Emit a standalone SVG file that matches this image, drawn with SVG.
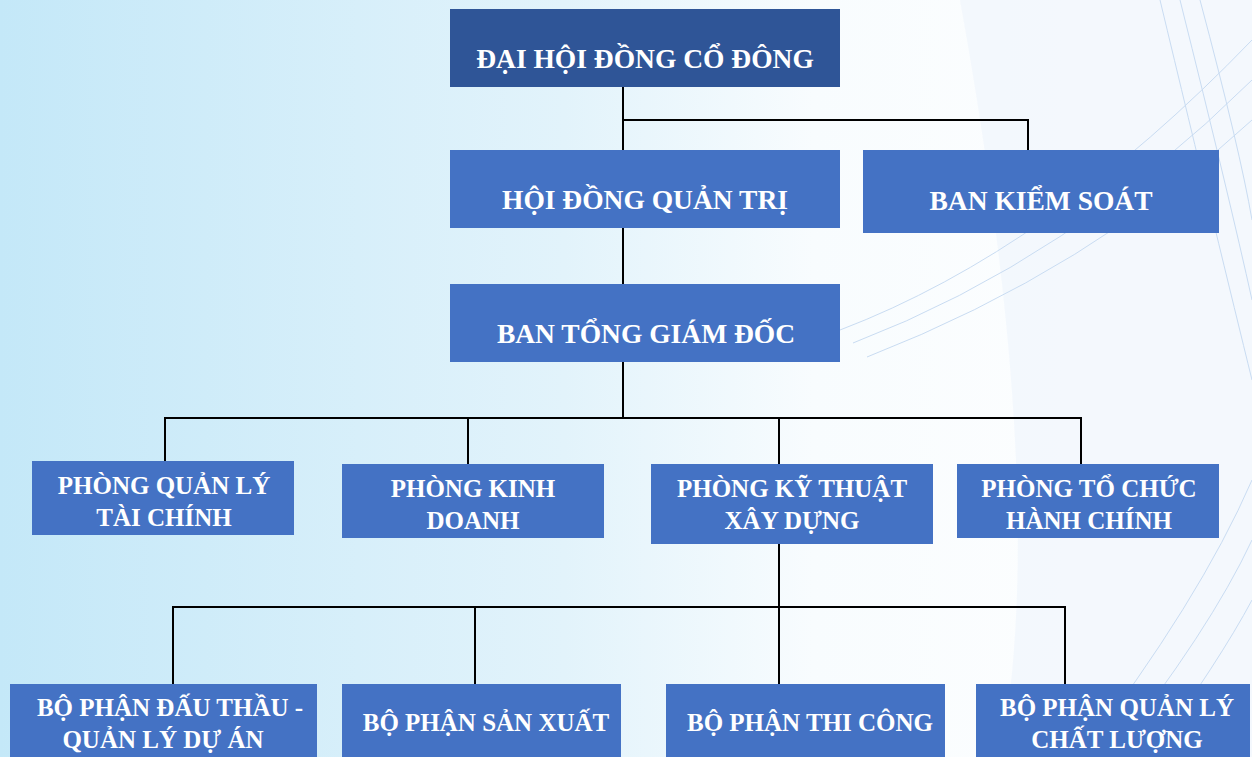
<svg xmlns="http://www.w3.org/2000/svg" width="1252" height="757" viewBox="0 0 1252 757">
<defs>
<linearGradient id="bg" x1="0" y1="0" x2="1" y2="0">
<stop offset="0" stop-color="#c4e8f8"/>
<stop offset="0.45" stop-color="#e2f3fb"/>
<stop offset="0.65" stop-color="#f8fcfe"/>
<stop offset="1" stop-color="#ffffff"/>
</linearGradient>
<style>
.box{fill:#4472c4}
.top{fill:#2f5597}
.t{font-family:"Liberation Serif","Times New Roman",serif;font-weight:bold;fill:#ffffff;text-anchor:middle}
.big{font-size:27.5px}
.sm{font-size:25px}
.ln{stroke:#000;stroke-width:2;fill:none}
.arc{stroke:#c9dcf2;stroke-width:1;fill:none}
</style>
</defs>
<rect width="1252" height="757" fill="url(#bg)"/>
<path d="M960 0 L1252 0 L1252 757 L1000 757 Q1050 500 960 0 Z" fill="#f1f6fc" opacity="0.8"/>
<g id="bgcurves">
<path class="arc" d="M840 330 Q1050 250 1252 40"/>
<path class="arc" d="M853 343 Q1070 260 1252 80"/>
<path class="arc" d="M867 357 Q1090 270 1252 120"/>
<path class="arc" d="M1080 757 Q1200 600 1252 480"/>
<path class="arc" d="M1110 757 Q1210 630 1252 540"/>
<path class="arc" d="M1150 757 Q1220 660 1252 600"/>
<path class="arc" d="M1180 0 Q1230 200 1252 300"/>
<path class="arc" d="M1200 0 Q1240 150 1252 220"/>
<path class="arc" d="M1160 0 Q1220 250 1252 380"/>
</g>
<g id="connectors">
<polyline class="ln" points="623,86 623,150"/>
<polyline class="ln" points="623,120 1028,120 1028,155"/>
<polyline class="ln" points="623,227 623,284"/>
<polyline class="ln" points="623,361 623,418"/>
<polyline class="ln" points="165,461 165,418 1081,418 1081,464"/>
<polyline class="ln" points="468,418 468,464"/>
<polyline class="ln" points="779,418 779,464"/>
<polyline class="ln" points="779,544 779,684"/>
<polyline class="ln" points="173,684 173,607 1065,607 1065,684"/>
<polyline class="ln" points="475,607 475,684"/>
</g>
<g id="dhdcd"><rect class="top" x="450" y="9" width="390" height="78"/><text class="t big" x="645" y="68">ĐẠI HỘI ĐỒNG CỔ ĐÔNG</text></g>
<g id="hdqt"><rect class="box" x="450" y="150" width="390" height="78"/><text class="t big" x="645" y="209">HỘI ĐỒNG QUẢN TRỊ</text></g>
<g id="bks"><rect class="box" x="863" y="150" width="356" height="83"/><text class="t big" x="1041" y="210">BAN KIỂM SOÁT</text></g>
<g id="btgd"><rect class="box" x="450" y="284" width="390" height="78"/><text class="t big" x="646" y="343">BAN TỔNG GIÁM ĐỐC</text></g>
<g id="pqltc"><rect class="box" x="32" y="461" width="262" height="74"/><text class="t sm" x="164" y="494">PHÒNG QUẢN LÝ</text><text class="t sm" x="164" y="526">TÀI CHÍNH</text></g>
<g id="pkd"><rect class="box" x="342" y="464" width="262" height="74"/><text class="t sm" x="473" y="497">PHÒNG KINH</text><text class="t sm" x="473" y="529">DOANH</text></g>
<g id="pktxd"><rect class="box" x="651" y="464" width="282" height="80"/><text class="t sm" x="792" y="497">PHÒNG KỸ THUẬT</text><text class="t sm" x="792" y="529">XÂY DỰNG</text></g>
<g id="ptchc"><rect class="box" x="957" y="464" width="262" height="74"/><text class="t sm" x="1089" y="497">PHÒNG TỔ CHỨC</text><text class="t sm" x="1089" y="529">HÀNH CHÍNH</text></g>
<g id="bpdt"><rect class="box" x="10" y="684" width="307" height="80"/><text class="t sm" x="170" y="716">BỘ PHẬN ĐẤU THẦU -</text><text class="t sm" x="163" y="748">QUẢN LÝ DỰ ÁN</text></g>
<g id="bpsx"><rect class="box" x="342" y="684" width="279" height="80"/><text class="t sm" x="486" y="731">BỘ PHẬN SẢN XUẤT</text></g>
<g id="bptc"><rect class="box" x="666" y="684" width="279" height="80"/><text class="t sm" x="810" y="731">BỘ PHẬN THI CÔNG</text></g>
<g id="bpqlcl"><rect class="box" x="976" y="684" width="274" height="80"/><text class="t sm" x="1117" y="716">BỘ PHẬN QUẢN LÝ</text><text class="t sm" x="1117" y="748">CHẤT LƯỢNG</text></g>
</svg>
